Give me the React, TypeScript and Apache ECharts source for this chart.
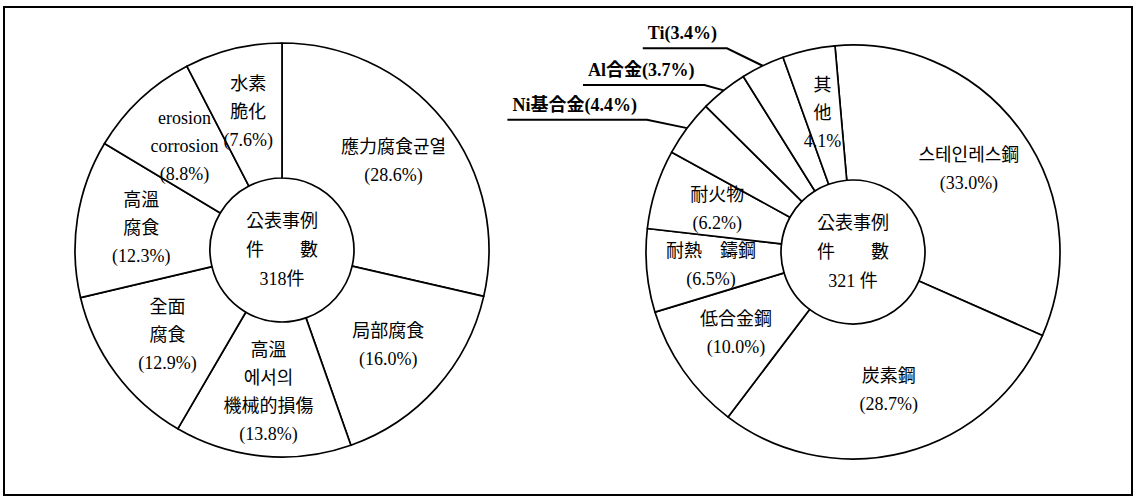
import React, { useEffect, useRef } from 'react';
import * as echarts from 'echarts';

// ---- data ----
const leftNames = ['應力腐食균열', '局部腐食', '高溫에서의機械的損傷', '全面腐食', '高溫腐食', 'erosion corrosion', '水素脆化'];
const leftLabelLines = [['應力腐食균열'], ['局部腐食'], ['高溫', '에서의', '機械的損傷'], ['全面', '腐食'], ['高溫', '腐食'], ['erosion', 'corrosion'], ['水素', '脆化']];
const leftValues = [28.6, 16.0, 13.8, 12.9, 12.3, 8.8, 7.6];
const leftTotal = '318件';

const rightNames = ['스테인레스鋼', '炭素鋼', '低合金鋼', '耐熱 鑄鋼', '耐火物', 'Ni基合金', 'Al合金', 'Ti', '其他'];
const rightLabelLines = [['스테인레스鋼'], ['炭素鋼'], ['低合金鋼'], ['耐熱　鑄鋼'], ['耐火物'], ['Ni基合金'], ['Al合金'], ['Ti'], ['其', '他']];
const rightValues = [33.0, 28.7, 10.0, 6.5, 6.2, 4.4, 3.7, 3.4, 4.1];
const rightOutside = ['Ni基合金', 'Al合金', 'Ti'];
const rightTotal = '321 件';

const centerLines = ['公表事例', '件　　數'];

const FONT = "'Liberation Serif', 'Noto Sans CJK KR', serif";

const LEFT_C = [282, 250];
const RIGHT_C = [853, 252];
const RADIUS = [72, 207];

// leader-line lengths for the outside labels (style only)
const outsideLen: Record<string, [number, number]> = {
  'Ni基合金': [39, 14],
  'Al合金': [26, 8],
  'Ti': [36, 25],
};

export default function App() {
  const ref = useRef<HTMLDivElement>(null);
  useEffect(() => {
    document.body.style.margin = '0';
    const chart = echarts.init(ref.current!, null, { renderer: 'svg' });

    const leftData = leftNames.map((n, i) => ({ name: n, value: leftValues[i] }));
    const rightData = rightNames.map((n, i) => {
      const item: any = { name: n, value: rightValues[i] };
      if (rightOutside.includes(n)) {
        const [l1, l2] = outsideLen[n];
        item.label = {
          position: 'outside',
          fontWeight: 'bold',
          fontSize: 18,
          distanceToLabelLine: 5,
          formatter: () => `${n}(${rightValues[i].toFixed(1)}%)`,
        };
        item.labelLine = { show: true, length: l1, length2: l2, lineStyle: { color: '#000', width: 2 } };
      }
      return item;
    });

    const pieBase = {
      type: 'pie',
      radius: RADIUS,
      clockwise: true,
      avoidLabelOverlap: false,
      minShowLabelAngle: 0,
      silent: true,
      itemStyle: { color: '#fff', borderColor: '#000', borderWidth: 1.7 },
      labelLine: { show: false },
      emphasis: { disabled: true },
    };

    const centerText = (c: number[], total: string) => ({
      type: 'text',
      x: c[0],
      y: c[1],
      z: 100,
      style: {
        text: [...centerLines, total].join('\n'),
        align: 'center',
        verticalAlign: 'middle',
        fontSize: 18,
        lineHeight: 29,
        fontFamily: FONT,
        fill: '#000',
      },
    });

    chart.setOption({
      animation: false,
      backgroundColor: '#fff',
      graphic: [
        {
          type: 'rect',
          shape: { x: 4, y: 7, width: 1128, height: 488 },
          style: { fill: 'none', stroke: '#000', lineWidth: 2 },
          z: -10,
        },
        centerText(LEFT_C, leftTotal),
        centerText(RIGHT_C, rightTotal),
      ],
      series: [
        {
          ...pieBase,
          center: LEFT_C,
          startAngle: 90,
          label: {
            show: true,
            position: 'inside',
            color: '#000',
            fontFamily: FONT,
            fontSize: 18,
            lineHeight: 28,
            formatter: (p: any) =>
              [...leftLabelLines[p.dataIndex], `(${leftValues[p.dataIndex].toFixed(1)}%)`].join('\n'),
          },
          labelLayout: () => ({ hideOverlap: false }),
          data: leftData,
        },
        {
          ...pieBase,
          center: RIGHT_C,
          startAngle: 95,
          label: {
            show: true,
            position: 'inside',
            color: '#000',
            fontFamily: FONT,
            fontSize: 18,
            lineHeight: 28,
            formatter: (p: any) => {
              const i = p.dataIndex;
              const pct = rightValues[i].toFixed(1) + '%';
              const last = rightNames[i] === '其他' ? pct : `(${pct})`;
              return [...rightLabelLines[i], last].join('\n');
            },
          },
          labelLayout: (p: any) => {
            if (!rightOutside.includes(rightNames[p.dataIndex]) || !p.labelLinePoints) return { hideOverlap: false };
            const r = p.labelRect;
            const pts = p.labelLinePoints;
            const y = r.y + r.height + 1;
            return { hideOverlap: false, labelLinePoints: [pts[0], [r.x + r.width + 10, y], [r.x - 5, y]] };
          },
          data: rightData,
        },
      ],
    });
    return () => chart.dispose();
  }, []);
  return <div ref={ref} style={{ width: 1139, height: 496 }} />;
}
